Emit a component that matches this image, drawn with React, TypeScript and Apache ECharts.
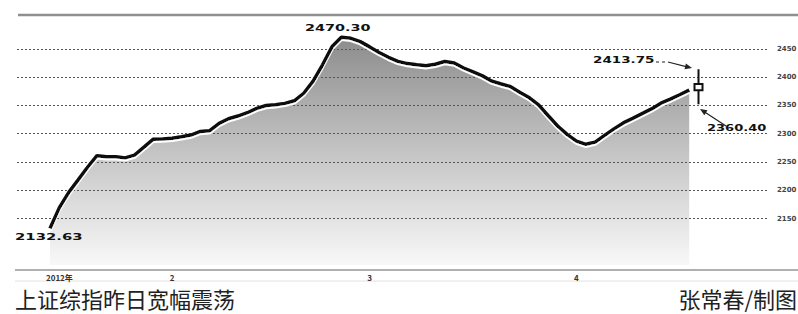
import React, { useEffect, useRef } from "react";
import * as echarts from "echarts";

// Daily closes of the Shanghai Composite
const closes = [
  2132.6, 2169.4, 2196.4, 2218.5, 2240.7, 2261.2, 2259.1, 2259.4, 2257.3, 2262.1,
  2276.2, 2290.3, 2290.6, 2291.9, 2294.7, 2297.7, 2304.1, 2305.3, 2318.2, 2326.5,
  2331.2, 2337.1, 2344.8, 2349.8, 2351.0, 2353.6, 2358.2, 2371.5, 2393.0, 2421.8,
  2453.5, 2470.3, 2468.5, 2462.7, 2453.4, 2443.5, 2435.0, 2427.9, 2423.9, 2421.8,
  2420.0, 2422.8, 2427.6, 2424.9, 2416.1, 2409.2, 2402.2, 2392.8, 2387.9, 2383.1,
  2372.7, 2363.5, 2350.3, 2331.8, 2313.6, 2298.8, 2286.9, 2281.3, 2285.2, 2297.0,
  2308.5, 2319.1, 2327.2, 2335.5, 2343.8, 2354.0, 2361.2, 2368.8, 2376.9,
];
// Yesterday's candle: open, close, low, high
const lastCandle = [2377, 2388, 2352, 2413.75];
const gridValues = [2150, 2200, 2250, 2300, 2350, 2400, 2450];
const tickIndex = [1, 13, 34, 56];
const tickText = ["2012年", "2", "3", "4"];
const peakLabel = "2470.30";
const lowLabel = "2132.63";
const highDayLabel = "2413.75";
const lowDayLabel = "2360.40";
const title = "上证综指昨日宽幅震荡";
const credit = "张常春/制图";

const Y_MIN = 2068;
const Y_MAX = 2508;

export default function App() {
  const ref = useRef<HTMLDivElement>(null);
  useEffect(() => {
    if (!ref.current) return;
    const chart = echarts.init(ref.current, undefined, { renderer: "svg" });
    const n = closes.length + 1;
    const cats = Array.from({ length: n }, (_, i) => String(i));
    const candleData = cats.map((_, i) => (i === n - 1 ? lastCandle : "-"));
    const annFont = { fontSize: 9, fontWeight: "bold", fontFamily: "DejaVu Sans", fill: "#111" };
    const option: any = {
      animation: false,
      backgroundColor: "#fff",
      grid: [
        { left: 17, right: 30, top: 16, bottom: 49 },
        { left: 50, right: 99.4, top: 16, bottom: 49 },
      ],
      xAxis: [
        { gridIndex: 0, type: "category", data: cats, show: false },
        {
          gridIndex: 1,
          type: "category",
          data: cats,
          boundaryGap: false,
          axisLine: { show: false },
          axisTick: { show: false },
          splitLine: { show: false },
          axisLabel: {
            interval: (idx: number) => tickIndex.includes(idx),
            formatter: (_v: string, idx: number) => {
              const k = tickIndex.indexOf(idx);
              return k >= 0 ? tickText[k] : "";
            },
            fontSize: 8,
            fontWeight: "bold",
            color: "#333",
            margin: 8,
            fontFamily: "Noto Sans CJK SC",
          },
        },
      ],
      yAxis: [
        { gridIndex: 0, type: "value", min: Y_MIN, max: Y_MAX, show: false },
        { gridIndex: 1, type: "value", min: Y_MIN, max: Y_MAX, show: false },
      ],
      series: [
        {
          type: "line",
          xAxisIndex: 0,
          yAxisIndex: 0,
          data: [],
          z: 3,
          markLine: {
            silent: true,
            symbol: ["none", "none"],
            lineStyle: { color: "#555", type: [2, 2], width: 1 },
            label: {
              position: "end",
              distance: 9,
              formatter: (p: any) => String(p.value),
              fontSize: 7,
              fontWeight: "bold",
              color: "#444",
              fontFamily: "DejaVu Sans",
            },
            data: gridValues.map((v) => ({ yAxis: v })),
          },
        },
        {
          type: "line",
          xAxisIndex: 1,
          yAxisIndex: 1,
          data: closes,
          symbol: "none",
          z: 1,
          lineStyle: { width: 0 },
          areaStyle: {
            opacity: 1,
            color: new echarts.graphic.LinearGradient(0, 0, 0, 1, [
              { offset: 0, color: "#8c8c8c" },
              { offset: 0.5, color: "#c4c4c4" },
              { offset: 1, color: "#f8f8f8" },
            ]),
          },
        },
        {
          type: "line",
          xAxisIndex: 1,
          yAxisIndex: 1,
          data: closes,
          symbol: "none",
          z: 5,
          lineStyle: {
            color: "#0a0a0a",
            width: 3.5,
            shadowColor: "#ffffff",
            shadowOffsetY: 2,
            shadowBlur: 0,
          },
        },
        {
          type: "candlestick",
          xAxisIndex: 1,
          yAxisIndex: 1,
          data: candleData,
          barWidth: 9,
          clip: false,
          z: 6,
          itemStyle: {
            color: "#fff",
            color0: "#fff",
            borderColor: "#111",
            borderColor0: "#111",
            borderWidth: 2,
          },
        },
      ],
      graphic: [
        { type: "line", shape: { x1: 18, y1: 15, x2: 798, y2: 15 }, style: { stroke: "#8f8f8f", lineWidth: 2.5 } },
        { type: "line", shape: { x1: 15, y1: 270, x2: 798, y2: 270 }, style: { stroke: "#b0b0b0", lineWidth: 2 } },
        { type: "line", shape: { x1: 15, y1: 281, x2: 798, y2: 281 }, style: { stroke: "#e2e2e2", lineWidth: 1 } },
        { type: "text", x: 305, y: 28.5, scaleX: 1.6, z: 10, style: { ...annFont, text: peakLabel, verticalAlign: "middle" } },
        { type: "text", x: 15, y: 237, scaleX: 1.65, z: 10, style: { ...annFont, text: lowLabel, verticalAlign: "middle" } },
        { type: "text", x: 593, y: 60, scaleX: 1.5, z: 10, style: { ...annFont, text: highDayLabel, verticalAlign: "middle" } },
        { type: "text", x: 707, y: 128, scaleX: 1.45, z: 10, style: { ...annFont, text: lowDayLabel, verticalAlign: "middle" } },
        { type: "line", z: 10, shape: { x1: 656, y1: 62, x2: 668, y2: 62 }, style: { stroke: "#222", lineWidth: 1.2, lineDash: [3, 3] } },
        { type: "line", z: 10, shape: { x1: 668, y1: 62, x2: 687, y2: 66.8 }, style: { stroke: "#222", lineWidth: 1.2 } },
        { type: "polygon", z: 10, shape: { points: [[692, 68], [684.5, 69.2], [685.9, 63.4]] }, style: { fill: "#222" } },
        { type: "line", z: 10, shape: { x1: 726, y1: 126, x2: 705, y2: 112.3 }, style: { stroke: "#222", lineWidth: 1.2 } },
        { type: "polygon", z: 10, shape: { points: [[700, 109], [707.5, 110.3], [704.3, 115.3]] }, style: { fill: "#222" } },
        {
          type: "text",
          x: 15,
          y: 298,
          style: { text: title, fontSize: 22, fontFamily: "Noto Sans CJK SC", fill: "#222", verticalAlign: "middle" },
        },
        {
          type: "text",
          x: 797,
          y: 298,
          style: { text: credit, fontSize: 22, fontFamily: "Noto Sans CJK SC", fill: "#222", align: "right", verticalAlign: "middle" },
        },
      ],
    };
    chart.setOption(option);
    return () => chart.dispose();
  }, []);
  return (
    <div
      ref={ref}
      style={{ position: "fixed", left: 0, top: 0, width: 798, height: 314, background: "#fff" }}
    />
  );
}
